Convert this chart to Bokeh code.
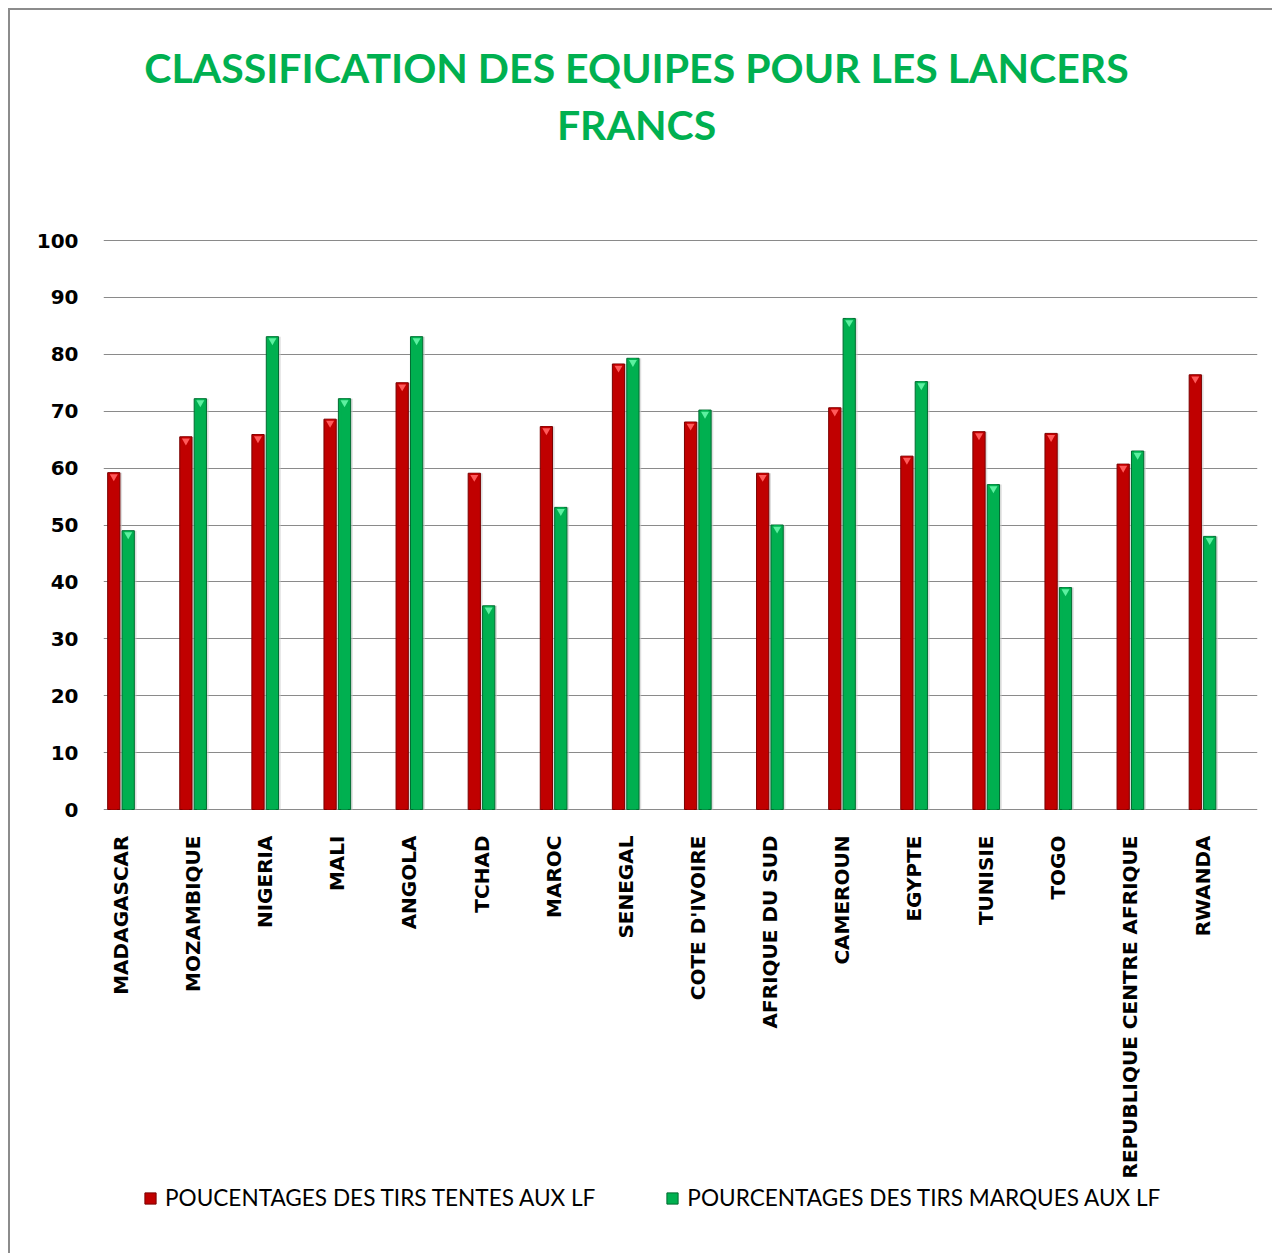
import math
from bokeh.plotting import figure
from bokeh.models import (Range1d, FixedTicker, Legend, LegendItem,
                          ColumnDataSource)
from bokeh.core.properties import value
from bokeh.transform import dodge
from bokeh.embed import file_html
from bokeh.resources import INLINE

# ---------------- data ----------------
countries = ["MADAGASCAR", "MOZAMBIQUE", "NIGERIA", "MALI", "ANGOLA", "TCHAD",
             "MAROC", "SENEGAL", "COTE D'IVOIRE", "AFRIQUE DU SUD", "CAMEROUN",
             "EGYPTE", "TUNISIE", "TOGO", "REPUBLIQUE CENTRE AFRIQUE", "RWANDA"]
tentes = [59.2, 65.5, 65.9, 68.6, 75.0, 59.1, 67.3, 78.3, 68.1, 59.1, 70.6,
          62.1, 66.4, 66.1, 60.7, 76.4]
marques = [49.0, 72.2, 83.1, 72.2, 83.1, 35.8, 53.1, 79.3, 70.2, 50.0, 86.3,
           75.2, 57.1, 39.0, 63.0, 48.0]
y_ticks = [0, 10, 20, 30, 40, 50, 60, 70, 80, 90, 100]
series_names = ["POUCENTAGES DES TIRS TENTES AUX LF",
                "POURCENTAGES DES TIRS MARQUES AUX LF"]
title_lines = ["CLASSIFICATION DES EQUIPES POUR LES LANCERS", "FRANCS"]

# ---------------- layout constants (pixels) ----------------
FIG_W, FIG_H = 1264, 1245
LEFT, RIGHT = 93, 17
PX_PER_UNIT = 5.69          # vertical pixels per percentage point
ZERO_FROM_TOP = 799         # pixel row of the 0 line inside the figure
CAT_PX = 72.1               # horizontal pixels per category
FIRST_CAT_FROM_LEFT = 17.5  # first category centre, measured from frame left
TITLE_CENTER_FROM_LEFT = 533
TITLE_ROWS = [57, 114]

y_top = ZERO_FROM_TOP / PX_PER_UNIT
y_bottom = -(FIG_H - ZERO_FROM_TOP) / PX_PER_UNIT
frame_w = FIG_W - LEFT - RIGHT
x_left = -FIRST_CAT_FROM_LEFT / CAT_PX
x_right = x_left + frame_w / CAT_PX

idx = list(range(len(countries)))
label_y = -26 / PX_PER_UNIT
src = ColumnDataSource(dict(
    idx=idx, tentes=tentes, marques=marques, countries=countries,
    label_y=[label_y] * len(idx),
    tentes_cap=[v - 0.7 for v in tentes],
    marques_cap=[v - 0.7 for v in marques],
))

TFONT = "Lato"
TICKFONT = "DejaVu Sans"

p = figure(width=FIG_W, height=FIG_H, title=None, x_axis_location=None,
           x_range=Range1d(x_left, x_right), y_range=Range1d(y_bottom, y_top),
           output_backend="svg", toolbar_location=None,
           min_border_left=LEFT, min_border_right=RIGHT, min_border_bottom=0,
           min_border_top=0)
p.outline_line_color = None
p.background_fill_color = "white"
p.border_fill_color = "white"

RED_OFF, GREEN_OFF, W = -0.1, 0.1, 0.17

# shadows
p.vbar(x=dodge("idx", RED_OFF + 0.03, range=p.x_range), top="tentes", width=W,
       source=src, fill_color="#c8c8c8", line_color=None, fill_alpha=0.6)
p.vbar(x=dodge("idx", GREEN_OFF + 0.03, range=p.x_range), top="marques", width=W,
       source=src, fill_color="#c8c8c8", line_color=None, fill_alpha=0.6)

# main bars (dark outer + bright core)
r_red = p.vbar(x=dodge("idx", RED_OFF, range=p.x_range), top="tentes", width=W,
               source=src, fill_color="#C00000", line_color="#7a0000",
               line_width=1)
r_green = p.vbar(x=dodge("idx", GREEN_OFF, range=p.x_range), top="marques",
                 width=W, source=src, fill_color="#00B050",
                 line_color="#006b30", line_width=1)
p.vbar(x=dodge("idx", RED_OFF, range=p.x_range), top="tentes", width=W * 0.55,
       source=src, fill_color="#C00000", line_color=None)
p.vbar(x=dodge("idx", GREEN_OFF, range=p.x_range), top="marques", width=W * 0.55,
       source=src, fill_color="#00B050", line_color=None)
# top caps
p.scatter(x=dodge("idx", RED_OFF, range=p.x_range), y="tentes_cap", source=src,
          marker="inverted_triangle", size=8, fill_color="#ff5a5a",
          line_color=None)
p.scatter(x=dodge("idx", GREEN_OFF, range=p.x_range), y="marques_cap", source=src,
          marker="inverted_triangle", size=8, fill_color="#5cf0a0",
          line_color=None)

# category labels (vertical, reading bottom to top)
p.text(x="idx", y="label_y", text="countries", source=src, angle=math.pi / 2,
       text_align="right", text_baseline="middle",
       text_font=value(TICKFONT), text_font_style="bold",
       text_font_size="20px", text_color="#000000")

# title, two centred lines
title_x = TITLE_CENTER_FROM_LEFT / CAT_PX + x_left
title_y = [(ZERO_FROM_TOP - r) / PX_PER_UNIT for r in TITLE_ROWS]
p.text(x=[title_x, title_x], y=title_y, text=title_lines,
       text_align="center", text_baseline="middle",
       text_font=value(TFONT), text_font_style="bold",
       text_font_size="41px", text_color="#00B050")

# y axis
p.yaxis.ticker = FixedTicker(ticks=y_ticks)
p.yaxis.major_label_standoff = 25
p.yaxis.major_tick_out = 0
p.yaxis.major_tick_in = 0
p.yaxis.minor_tick_out = 0
p.yaxis.minor_tick_in = 0
p.yaxis.major_label_text_font = TICKFONT
p.yaxis.major_label_text_font_style = "bold"
p.yaxis.major_label_text_font_size = "20px"
p.yaxis.major_label_text_color = "#000000"
p.yaxis.axis_line_color = None
p.yaxis.major_tick_line_color = None
p.yaxis.minor_tick_line_color = None

p.xgrid.grid_line_color = None
p.ygrid.ticker = FixedTicker(ticks=y_ticks)
p.ygrid.grid_line_color = "#8a8a8a"
p.ygrid.grid_line_width = 1

legend = Legend(items=[LegendItem(label=series_names[0], renderers=[r_red]),
                       LegendItem(label=series_names[1], renderers=[r_green])],
                orientation="horizontal", location=(40, 44), spacing=70,
                label_text_font=TFONT, label_text_font_size="22.6px",
                label_text_color="#000000", glyph_width=14, glyph_height=14,
                label_standoff=8, border_line_color=None, padding=0, margin=0,
                background_fill_alpha=0)
p.add_layout(legend)

p.styles = {"margin-left": "8px", "margin-top": "8px",
            "border-left": "2px solid #8c8c8c", "border-top": "2px solid #8c8c8c",
            "box-sizing": "border-box"}

open("out.html", "w").write(file_html(p, INLINE))
